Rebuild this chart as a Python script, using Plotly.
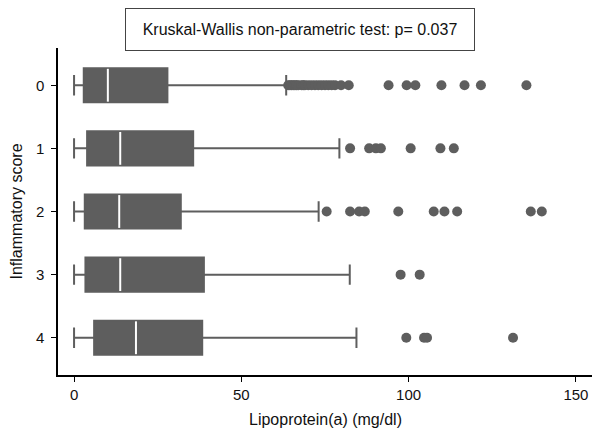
import plotly.graph_objects as go

# ---- data ----
groups = [0, 1, 2, 3, 4]
group_labels = ["0", "1", "2", "3", "4"]
lower_fence = [0, 0, 0, 0, 0]
q1 = [2.9, 3.9, 3.2, 3.4, 6.0]
median = [10.1, 13.8, 13.5, 13.8, 18.5]
q3 = [27.9, 35.6, 31.9, 38.8, 38.3]
upper_fence = [63.4, 79.3, 73.1, 82.4, 84.4]

outliers_0 = [64, 64.5, 65, 65.5, 66, 66.5, 67, 68, 68.5, 69, 70, 71, 72, 73, 74,
              75, 76, 77, 78, 79.8, 82.1, 94, 99.4, 102, 109.8, 116.7, 121.6, 135.2]
outliers_1 = [82.5, 88.2, 90.2, 91.7, 100.6, 109.5, 113.5]
outliers_2 = [75.5, 82.5, 85.2, 86.9, 96.9, 107.5, 110.7, 114.5, 136.5, 139.8]
outliers_3 = [97.6, 103.3]
outliers_4 = [99.3, 104.6, 105.5, 131.2]
outliers = [outliers_0, outliers_1, outliers_2, outliers_3, outliers_4]

x_ticks = [0, 50, 100, 150]
x_title = "Lipoprotein(a) (mg/dl)"
y_title = "Inflammatory score"
test_text = "Kruskal-Wallis non-parametric test: p= 0.037"

# ---- style ----
GRAY = "#5e5e5e"
BOX_W = 0.54
FONT = "Liberation Sans, Arial, sans-serif"

fig = go.Figure()

fig.add_trace(go.Box(
    y=groups, q1=q1, median=median, q3=q3,
    lowerfence=lower_fence, upperfence=upper_fence,
    orientation="h", boxpoints=False,
    fillcolor=GRAY, line=dict(color=GRAY, width=2),
    whiskerwidth=0.6, width=BOX_W, showlegend=False, hoverinfo="skip",
))

# white median lines
mx, my = [], []
for g, m in zip(groups, median):
    mx += [m, m, None]
    my += [g - BOX_W / 2 + 0.01, g + BOX_W / 2 - 0.01, None]
fig.add_trace(go.Scatter(x=mx, y=my, mode="lines",
                         line=dict(color="white", width=2),
                         showlegend=False, hoverinfo="skip"))

# outliers
for g, pts in zip(groups, outliers):
    fig.add_trace(go.Scatter(x=pts, y=[g] * len(pts), mode="markers",
                             marker=dict(color=GRAY, size=10),
                             showlegend=False, hoverinfo="skip"))

# page has an 8px body margin, so the figure is 8px smaller than the window
fig.update_layout(
    width=592, height=435,
    margin=dict(l=48, r=7, t=40, b=68),
    paper_bgcolor="white", plot_bgcolor="white",
    font=dict(family=FONT, size=15, color="#111111"),
    xaxis=dict(range=[-4.8, 155.1], tickvals=x_ticks, ticks="outside", ticklen=5,
               tickcolor="black", showline=True, linecolor="black", linewidth=1.5,
               showgrid=False, zeroline=False,
               title=dict(text=x_title, standoff=12, font=dict(size=16))),
    yaxis=dict(range=[4.59, -0.59], tickvals=groups, ticktext=group_labels,
               ticks="outside", ticklen=5, tickcolor="black", ticklabelstandoff=4,
               showline=True, linecolor="black", linewidth=1.5,
               showgrid=False, zeroline=False,
               title=dict(text=y_title, standoff=10, font=dict(size=16))),
    annotations=[dict(
        text=test_text, xref="paper", yref="paper",
        x=(291 - 48) / 537, y=(367 - 21.5) / 327,
        xanchor="center", yanchor="middle", showarrow=False,
        width=348, height=41, borderpad=0, bordercolor="#444444", borderwidth=1,
        bgcolor="white", font=dict(size=16, color="#111111"),
    )],
)

fig.write_html("out.html")
